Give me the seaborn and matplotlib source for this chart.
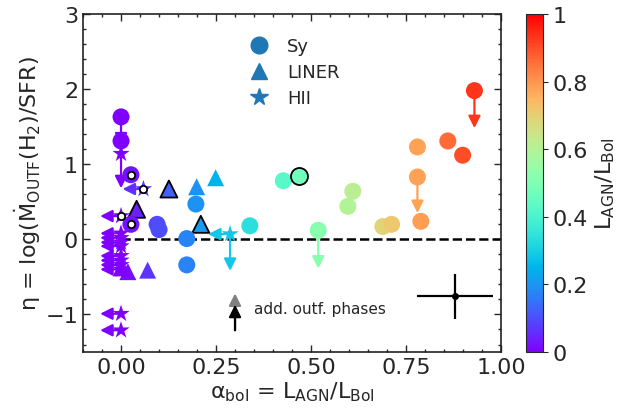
import matplotlib
matplotlib.use('Agg')
import matplotlib.pyplot as plt
import matplotlib.colors as mcolors
from matplotlib.lines import Line2D
from matplotlib.ticker import AutoMinorLocator
import numpy as np
import seaborn as sns

# Sy (circles): alpha_bol, eta, upper-limit arrow length in eta (0 = none)
sy_x = [0.0, 0.0, 0.026, 0.026, 0.095, 0.10, 0.173, 0.173, 0.197, 0.339, 0.427,
        0.519, 0.597, 0.61, 0.689, 0.712, 0.78, 0.78, 0.789, 0.86, 0.899, 0.93]
sy_y = [1.63, 1.31, 0.86, 0.20, 0.20, 0.13, 0.01, -0.34, 0.47, 0.18, 0.78,
        0.12, 0.44, 0.64, 0.17, 0.20, 1.23, 0.83, 0.24, 1.31, 1.12, 1.98]
sy_dy = [-0.38, 0, 0, 0, 0, 0, 0, 0, 0, 0, 0,
         -0.51, 0, 0, 0, 0, 0, -0.48, 0, 0, 0, -0.50]
# Sy with black edge
sye_x = [0.469]
sye_y = [0.84]

# LINER (triangles)
li_x = [0.199, 0.249, 0.07, 0.018, 0.0]
li_y = [0.70, 0.82, -0.41, -0.43, -0.38]
lie_x = [0.126, 0.041, 0.21]
lie_y = [0.67, 0.40, 0.20]

# HII (stars), arrows in alpha_bol (dx) and eta (dy)
hii_x = [0.0, 0.059, 0.0, 0.0, 0.0, 0.0, 0.0, 0.0, 0.0, 0.0, 0.0, 0.0, 0.0, 0.287]
hii_y = [1.14, 0.67, 0.31, 0.08, 0.02, -0.04, -0.09, -0.22, -0.28, -0.34, -0.40,
         -0.99, -1.21, 0.07]
hii_dx = [0, -0.055, -0.055, -0.055, -0.055, -0.055, -0.055, -0.055, -0.055,
          -0.055, -0.055, -0.055, -0.055, -0.058]
hii_dy = [-0.46, 0, 0, 0, 0, 0, 0, 0, 0, 0, 0, 0, 0, -0.49]

# flagged objects (small open circles)
fl_x = [0.026, 0.059, 0.0, 0.026]
fl_y = [0.86, 0.67, 0.31, 0.20]

# typical error
err_x, err_y, err_xe, err_ye = [0.88], [-0.76], [0.1], [0.3]

# "add. outf. phases" key
key_x = 0.30
key_y0, key_grey, key_black = -1.21, -0.72, -0.87

sns.set_style('ticks')
plt.rcParams['font.family'] = ['DejaVu Sans']
plt.rcParams['mathtext.default'] = 'regular'

fig = plt.figure(figsize=(6.21, 4.14), dpi=100)
ax = fig.add_axes([0.1337, 0.1473, 0.6731, 0.8165])
cax = fig.add_axes([0.847, 0.1473, 0.027, 0.8165])

cmap = plt.cm.rainbow
norm = mcolors.Normalize(0, 1)


def arrow(x0, y0, x1, y1, color, z=2):
    ax.annotate('', xy=(x1, y1), xytext=(x0, y0),
                arrowprops=dict(arrowstyle='-|>,head_width=0.3,head_length=0.6',
                                mutation_scale=12, color=color, lw=1.6,
                                shrinkA=0, shrinkB=0),
                zorder=z)


for x, y, dy in zip(sy_x, sy_y, sy_dy):
    if dy:
        arrow(x, y, x, y + dy, cmap(norm(x)))
for x, y, dx, dy in zip(hii_x, hii_y, hii_dx, hii_dy):
    if dx:
        arrow(x, y, x + dx, y, cmap(norm(x)))
    if dy:
        arrow(x, y, x, y + dy, cmap(norm(x)))

ax.plot([0, 1], [0, 0], 'k--', lw=1.8, zorder=1)

common = dict(palette='rainbow', hue_norm=(0, 1), legend=False, ax=ax, zorder=3)
sns.scatterplot(x=hii_x, y=hii_y, hue=hii_x, marker='*', s=170, linewidth=0, **common)
sns.scatterplot(x=li_x, y=li_y, hue=li_x, marker='^', s=150, linewidth=0, **common)
sns.scatterplot(x=lie_x, y=lie_y, hue=lie_x, marker='^', s=150, edgecolor='k',
                linewidth=1.3, **common)
sns.scatterplot(x=sy_x, y=sy_y, hue=sy_x, marker='o', s=150, linewidth=0, **common)
sns.scatterplot(x=sye_x, y=sye_y, hue=sye_x, marker='o', s=150, edgecolor='k',
                linewidth=1.3, **common)
ax.scatter(fl_x, fl_y, s=28, facecolor='white', edgecolor='k', linewidth=1.3, zorder=4)

ax.errorbar(err_x, err_y, xerr=err_xe, yerr=err_ye, fmt='o', color='k', ms=4,
            lw=1.6, zorder=3)

arrow(key_x, key_y0, key_x, key_grey, 'grey')
arrow(key_x, key_y0, key_x, key_black, 'black', z=3)
ax.text(key_x + 0.05, (key_y0 + key_grey) / 2 + 0.05, 'add. outf. phases',
        fontsize=11, va='center', ha='left')

ax.set_xlim(-0.1, 1.0)
ax.set_ylim(-1.5, 3)
ax.set_xticks([0, 0.25, 0.5, 0.75, 1.0])
ax.set_yticks([-1, 0, 1, 2, 3])
ax.xaxis.set_minor_locator(AutoMinorLocator())
ax.yaxis.set_minor_locator(AutoMinorLocator())
ax.tick_params(which='both', direction='in', top=True, right=True, labelsize=16)
ax.tick_params(which='major', length=5, width=1)
ax.tick_params(which='minor', length=2.5, width=1)
for s in ax.spines.values():
    s.set_linewidth(1.2)
    s.set_color('#222222')

ax.set_xlabel(r'$\alpha_{bol}$ = L$_{AGN}$/L$_{Bol}$', fontsize=16, labelpad=2)
ax.set_ylabel(r'$\eta$ = log($\dot{M}_{OUTF}$(H$_2$)/SFR)', fontsize=16, labelpad=2)

handles = [Line2D([], [], ls='', marker=m, color='C0', ms=ms)
           for m, ms in [('o', 12), ('^', 12), ('*', 13)]]
ax.legend(handles, ['Sy', 'LINER', 'HII'], loc='upper left',
          bbox_to_anchor=(0.35, 0.98), frameon=False, fontsize=13,
          handlelength=1.5, labelspacing=0.45)

sm = plt.cm.ScalarMappable(norm=norm, cmap=cmap)
cb = fig.colorbar(sm, cax=cax)
cb.set_ticks([0, 0.2, 0.4, 0.6, 0.8, 1])
cb.set_ticklabels(['0', '0.2', '0.4', '0.6', '0.8', '1'])
cb.ax.tick_params(labelsize=16)
cb.set_label(r'L$_{AGN}$/L$_{Bol}$', fontsize=16)

fig.savefig('out.png', dpi=100)
